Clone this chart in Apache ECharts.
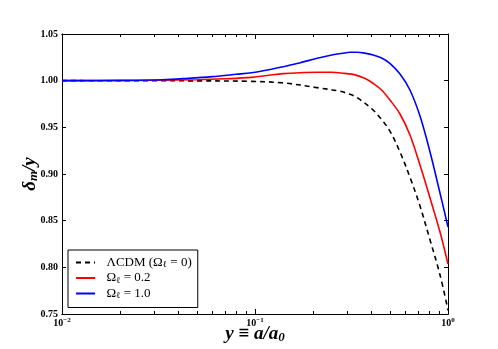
<!DOCTYPE html>
<html>
<head>
<meta charset="utf-8">
<script src="https://cdn.jsdelivr.net/npm/echarts@6/dist/echarts.min.js"></script>
<style>
  html, body { margin: 0; padding: 0; background: #fff; }
  #main { width: 498px; height: 349px; }
</style>
</head>
<body>
<div id="main"></div>
<script>
// 数据
const lcdmA = [0.01, 0.05, 0.094, 0.14, 0.21, 0.275, 0.31, 0.34, 0.409, 0.45, 0.5, 0.564, 0.643, 0.716, 0.807, 0.909, 1.0];
const lcdmD = [1.0, 0.9998, 0.9993, 0.9976, 0.9925, 0.9887, 0.9854, 0.9815, 0.9686, 0.959, 0.946, 0.9236, 0.8936, 0.8657, 0.8293, 0.792, 0.754];

const om02A = [0.01, 0.02, 0.03, 0.05, 0.07, 0.096, 0.12, 0.14, 0.17, 0.21, 0.25, 0.29, 0.33, 0.37, 0.41, 0.45, 0.5, 0.564, 0.635, 0.716, 0.807, 0.909, 1.0];
const om02D = [1.0, 1.0001, 1.0004, 1.001, 1.002, 1.0035, 1.006, 1.0075, 1.0085, 1.009, 1.009, 1.0078, 1.0062, 1.0025, 0.997, 0.9905, 0.9793, 0.9643, 0.9418, 0.9096, 0.8743, 0.8379, 0.8036];

const om10A = [0.01, 0.02, 0.033, 0.045, 0.06, 0.08, 0.096, 0.12, 0.14, 0.17, 0.21, 0.25, 0.29, 0.31, 0.34, 0.37, 0.41, 0.45, 0.5, 0.564, 0.635, 0.716, 0.807, 0.909, 1.0];
const om10D = [1.0, 1.0003, 1.001, 1.0025, 1.0043, 1.0068, 1.0085, 1.012, 1.015, 1.019, 1.024, 1.0275, 1.0296, 1.0304, 1.0305, 1.0295, 1.0275, 1.0245, 1.0186, 1.0071, 0.99, 0.9621, 0.9236, 0.8796, 0.8432];

const majorX = [0.01, 0.1, 1];
const minorX = [0.02, 0.03, 0.04, 0.05, 0.06, 0.07, 0.08, 0.09, 0.2, 0.3, 0.4, 0.5, 0.6, 0.7, 0.8, 0.9];
const supText = { '0.01': '−2', '0.1': '−1', '1': '0' };

const serif = 'Liberation Serif';
const chart = echarts.init(document.getElementById('main'));

function pairs(a, d) { return a.map((v, i) => [v, d[i]]); }

function xAxisOf(pos, ticks, len, labels) {
  return {
    type: 'log', logBase: 10, min: 0.01, max: 1, position: pos,
    axisLine: { show: true, lineStyle: { color: '#000', width: 1 } },
    axisTick: { show: true, inside: true, length: len, customValues: ticks, lineStyle: { color: '#000' } },
    axisLabel: labels ? {
      show: true, margin: 3, customValues: majorX,
      formatter: v => '{b|10}{s|' + supText[String(v)] + '}',
      rich: {
        b: { fontFamily: serif, fontWeight: 'bold', fontSize: 10, color: '#000' },
        s: { fontFamily: serif, fontWeight: 'bold', fontSize: 7, color: '#000', padding: [0, 0, 6, 0] }
      }
    } : { show: false },
    splitLine: { show: false }
  };
}

const xAxes = [
  xAxisOf('bottom', majorX, 5, true),
  xAxisOf('bottom', minorX, 3, false),
  xAxisOf('top', majorX, 5, false),
  xAxisOf('top', minorX, 3, false)
];
const nameRich = {
  i: { fontFamily: serif, fontWeight: 'bold', fontStyle: 'italic', fontSize: 19, color: '#000' },
  s: { fontFamily: serif, fontWeight: 'bold', fontStyle: 'italic', fontSize: 13, color: '#000', padding: [7, 0, 0, 0] }
};
xAxes[0].name = '{i|y ≡ a/a}{s|0}';
xAxes[0].nameLocation = 'middle';
xAxes[0].nameGap = 10;
xAxes[0].nameMoveOverlap = false;
xAxes[0].nameTextStyle = { rich: nameRich };

function yAxisOf(pos, labels) {
  return {
    type: 'value', min: 0.75, max: 1.05, interval: 0.05, position: pos,
    axisLine: { show: true, lineStyle: { color: '#000', width: 1 } },
    axisTick: { show: true, inside: true, length: 4, lineStyle: { color: '#000' } },
    axisLabel: labels ? {
      show: true, margin: 4, color: '#000', fontFamily: serif, fontWeight: 'bold', fontSize: 10,
      formatter: v => v.toFixed(2)
    } : { show: false },
    splitLine: { show: false }
  };
}
const yAxes = [yAxisOf('left', true), yAxisOf('right', false)];
yAxes[0].name = '{i|δ}{s|m}{i|/y}';
yAxes[0].nameLocation = 'middle';
yAxes[0].nameGap = 22;
yAxes[0].nameMoveOverlap = false;
yAxes[0].nameTextStyle = { rich: nameRich };

const legendRich = {
  n: { fontFamily: serif, fontSize: 13, color: '#000' },
  s: { fontFamily: serif, fontSize: 9, color: '#000', padding: [5, 0, 0, 0] }
};

const option = {
  animation: false,
  backgroundColor: '#fff',
  grid: { left: 62, right: 50, top: 34, bottom: 35 },
  xAxis: xAxes,
  yAxis: yAxes,
  legend: {
    orient: 'vertical', left: 68, top: 250,
    padding: [6, 6, 7, 7], itemGap: 2, itemWidth: 19, itemHeight: 16,
    borderColor: '#000', borderWidth: 1, backgroundColor: '#fff', borderRadius: 0,
    itemStyle: { opacity: 0 },
    textStyle: { rich: legendRich },
    formatter: name => ({
      lcdm: '{n|  ΛCDM (Ω}{s|ℓ}{n| = 0)}',
      om02: '{n|  Ω}{s|ℓ}{n| = 0.2}',
      om10: '{n|  Ω}{s|ℓ}{n| = 1.0}'
    })[name],
    data: ['lcdm', 'om02', 'om10']
  },
  series: [
    {
      name: 'lcdm', type: 'line', showSymbol: false, symbol: 'none', smooth: 0.35,
      data: pairs(lcdmA, lcdmD),
      lineStyle: { color: '#000', width: 1.6, type: [5, 4] }, itemStyle: { color: '#000' }
    },
    {
      name: 'om02', type: 'line', showSymbol: false, symbol: 'none', smooth: 0.35,
      data: pairs(om02A, om02D),
      lineStyle: { color: '#ff0000', width: 1.6 }, itemStyle: { color: '#ff0000' }
    },
    {
      name: 'om10', type: 'line', showSymbol: false, symbol: 'none', smooth: 0.35,
      data: pairs(om10A, om10D),
      lineStyle: { color: '#0000ff', width: 1.6 }, itemStyle: { color: '#0000ff' }
    }
  ]
};

chart.setOption(option);
</script>
</body>
</html>
